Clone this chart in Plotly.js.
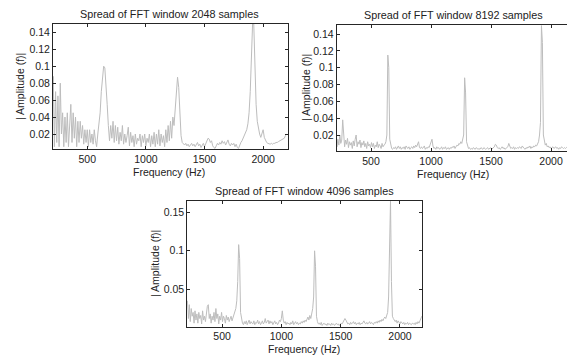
<!DOCTYPE html>
<html>
<head>
<meta charset="utf-8">
<script src="https://cdn.plot.ly/plotly-3.0.1.min.js"></script>
<style>html,body{margin:0;padding:0;background:#fff;}#chart{width:567px;height:356px;}</style>
</head>
<body>
<div id="chart"></div>
<script>
// ---- data ----
const panelTitles = ["Spread of FFT window 2048 samples", "Spread of FFT window 8192 samples", "Spread of FFT window 4096 samples"];
const xLabel = "Frequency (Hz)";
const yLabel = "| Amplitude (f)|";

// FFT bin grids (Hz): first bin and bin spacing
const bin2048 = {start: 200, step: 10};
const bin8192 = {start: 200, step: 8};
const bin4096 = {start: 200, step: 8};

const amp2048 = [
 .035,.088,.005,.07,.01,.065,.005,.08,.02,.045,
 .005,.04,.01,.045,.005,.035,.055,.01,.045,.015,
 .04,.005,.035,.01,.035,.015,.03,.008,.025,.01,
 .025,.005,.025,.01,.02,.008,.025,.012,.005,.02,
 .03,.045,.07,.09,.1,.098,.08,.055,.03,.012,
 .03,.015,.035,.01,.03,.012,.028,.008,.022,.012,
 .03,.008,.02,.01,.018,.028,.006,.022,.01,.018,
 .005,.02,.008,.015,.012,.02,.005,.018,.01,.02,
 .006,.015,.01,.02,.005,.018,.008,.022,.005,.02,
 .008,.025,.006,.02,.01,.018,.005,.025,.01,.03,
 .012,.035,.015,.04,.03,.05,.07,.087,.075,.045,
 .018,.01,.008,.007,.009,.006,.008,.005,.007,.009,
 .006,.008,.005,.007,.01,.006,.008,.004,.007,.009,
 .005,.008,.012,.015,.014,.01,.012,.006,.004,.003,
 .006,.009,.007,.01,.008,.012,.009,.011,.007,.01,
 .013,.008,.006,.009,.007,.009,.005,.008,.004,.003,
 .007,.01,.012,.015,.018,.02,.025,.032,.045,.07,
 .11,.15,.15,.1,.055,.035,.025,.02,.016,.02,
 .025,.016,.012,.01,.009,.008,.008,.009,.008,.009,
 .009,.01,.01,.011,.012,.012,.013,.014,.015,.018,
 .02
];

const amp8192 = [
 .012,.018,.006,.015,.008,.02,.01,.014,.038,.012,
 .006,.014,.009,.016,.005,.012,.008,.011,.004,.013,
 .007,.015,.02,.006,.012,.009,.014,.005,.011,.008,
 .013,.006,.01,.004,.012,.007,.009,.005,.011,.006,
 .01,.004,.008,.006,.012,.005,.009,.007,.004,.01,
 .006,.008,.009,.012,.02,.115,.1,.015,.006,.004,
 .003,.005,.004,.006,.003,.005,.007,.004,.006,.003,
 .005,.004,.006,.003,.007,.005,.004,.006,.003,.005,
 .006,.004,.007,.005,.008,.006,.01,.012,.005,.004,
 .006,.004,.005,.007,.003,.005,.004,.006,.005,.008,
 .011,.015,.007,.004,.005,.003,.006,.004,.005,.003,
 .004,.006,.003,.005,.004,.006,.003,.004,.005,.003,
 .005,.004,.006,.005,.007,.004,.006,.008,.007,.01,
 .009,.012,.01,.015,.02,.088,.07,.012,.006,.004,
 .005,.003,.004,.003,.005,.004,.003,.005,.004,.003,
 .004,.003,.005,.004,.003,.005,.004,.003,.004,.005,
 .003,.004,.005,.003,.004,.005,.006,.009,.008,.005,
 .004,.005,.003,.004,.006,.004,.005,.003,.004,.005,
 .006,.01,.007,.004,.005,.004,.006,.003,.005,.004,
 .005,.004,.006,.005,.004,.007,.005,.004,.003,.005,
 .004,.006,.005,.007,.004,.006,.005,.007,.006,.008,
 .007,.009,.012,.02,.035,.15,.13,.02,.012,.008,
 .01,.006,.007,.005,.006,.004,.005,.006,.004,.005,
 .006,.004,.005,.003,.005,.004,.006,.005,.004,.005,
 .004,.005,.006,.004,.005,.006,.004,.005,.006,.005,
 .006
];

const amp4096 = [
 .022,.035,.012,.03,.008,.025,.015,.02,.006,.022,
 .01,.018,.006,.02,.012,.016,.005,.022,.01,.015,
 .008,.02,.028,.03,.012,.018,.006,.015,.01,.02,
 .008,.025,.012,.018,.005,.015,.01,.02,.008,.015,
 .012,.006,.016,.01,.014,.008,.012,.015,.009,.013,
 .015,.02,.025,.035,.06,.108,.09,.02,.01,.006,
 .004,.008,.005,.009,.004,.007,.01,.005,.008,.006,
 .005,.009,.004,.007,.006,.01,.005,.008,.004,.006,
 .009,.005,.007,.012,.006,.008,.01,.005,.009,.006,
 .008,.004,.006,.009,.005,.007,.004,.006,.01,.008,
 .012,.022,.01,.006,.008,.004,.007,.005,.006,.004,
 .007,.005,.009,.004,.006,.008,.005,.007,.004,.006,
 .005,.008,.006,.009,.007,.01,.008,.012,.014,.01,
 .016,.012,.018,.025,.04,.1,.08,.015,.008,.005,
 .006,.004,.007,.003,.005,.006,.004,.005,.003,.006,
 .004,.005,.003,.006,.004,.005,.003,.004,.006,.004,
 .005,.003,.004,.006,.005,.007,.009,.012,.01,.007,
 .005,.006,.004,.007,.005,.006,.008,.005,.007,.004,
 .006,.005,.007,.004,.006,.005,.008,.009,.006,.005,
 .007,.005,.006,.008,.005,.007,.006,.004,.007,.006,
 .008,.006,.009,.007,.01,.008,.011,.009,.012,.014,
 .012,.016,.02,.04,.137,.165,.06,.015,.012,.01,
 .008,.01,.006,.009,.007,.005,.008,.006,.005,.007,
 .004,.006,.005,.007,.004,.006,.005,.004,.006,.005,
 .006,.004,.007,.005,.008,.006,.009,.012,.015,.01,
 .008
];

const xTicks = [500, 1000, 1500, 2000];
const xTickText = ["500", "1000", "1500", "2000"];
const yTicksA = [0.02, 0.04, 0.06, 0.08, 0.1, 0.12, 0.14];
const yTickTextA = ["0.02", "0.04", "0.06", "0.08", "0.1", "0.12", "0.14"];
const yTicksC = [0.05, 0.1, 0.15];
const yTickTextC = ["0.05", "0.1", "0.15"];

// ---- figure ----
const W = 567, H = 356;
const lineCol = "#bdbdbd";
const axCol = "#262626";
const family = "Liberation Sans, Arial, sans-serif";
const font = {family: family, size: 10.5, color: "#222"};
const titleFont = {family: family, size: 10.8, color: "#222"};

function tr(amp, bin, xa, ya) {
  return {type: "scatter", mode: "lines", y: amp, x0: bin.start, dx: bin.step,
          xaxis: xa, yaxis: ya, line: {color: lineCol, width: 1}, hoverinfo: "skip", showlegend: false};
}

function px(a, b) { return [a / W, b / W]; }
function py(top, bottom) { return [1 - bottom / H, 1 - top / H]; }

function xax(dom, range, anchor, mirror) {
  return {domain: dom, range: range, anchor: anchor, showgrid: false, zeroline: false,
          showline: true, linecolor: axCol, linewidth: 1, mirror: mirror,
          ticks: "inside", ticklen: 3, tickcolor: axCol, tickwidth: 1,
          tickvals: xTicks, ticktext: xTickText, tickfont: font, fixedrange: true};
}
function yax(dom, range, anchor, vals, text, mirror) {
  return {domain: dom, range: range, anchor: anchor, showgrid: false, zeroline: false,
          showline: true, linecolor: axCol, linewidth: 1, mirror: mirror,
          ticks: "inside", ticklen: 3, tickcolor: axCol, tickwidth: 1,
          tickvals: vals, ticktext: text, tickfont: font, fixedrange: true};
}

const d1x = px(53, 288), d1y = py(24, 149);
const d2x = [336.7 / W, 1], d2y = py(25, 151);
const d3x = px(187.3, 421.7), d3y = py(201, 326.7);

const data = [
  tr(amp2048, bin2048, "x", "y"),
  tr(amp8192, bin8192, "x2", "y2"),
  tr(amp4096, bin4096, "x3", "y3")
];

function ann(text, x, y, angle, f) {
  return {text: text, xref: "paper", yref: "paper", x: x / W, y: 1 - y / H,
          xanchor: "center", yanchor: "middle", showarrow: false, textangle: angle || 0,
          font: f || font};
}

const layout = {
  width: W, height: H, margin: {l: 0, r: 0, t: 0, b: 0},
  paper_bgcolor: "#fff", plot_bgcolor: "#fff", font: font,
  xaxis: xax(d1x, [208, 2212], "y", "ticks"),
  yaxis: yax(d1y, [0.0023, 0.1498], "x", yTicksA, yTickTextA, "ticks"),
  xaxis2: xax(d2x, [214, 2133], "y2", "ticks"),
  yaxis2: yax(d2y, [0.001, 0.1507], "x2", yTicksA, yTickTextA, false),
  xaxis3: xax(d3x, [207, 2183], "y3", "ticks"),
  yaxis3: yax(d3y, [0.0014, 0.1647], "x3", yTicksC, yTickTextC, "ticks"),
  annotations: [
    ann(panelTitles[0], 169, 14, 0, titleFont),
    ann(panelTitles[1], 453, 15, 0, titleFont),
    ann(panelTitles[2], 304, 191, 0, titleFont),
    ann(xLabel, 169, 172),
    ann(xLabel, 453, 174),
    ann(xLabel, 304, 349),
    ann(yLabel, 20, 87, -90),
    ann(yLabel, 306, 88, -90),
    ann(yLabel, 155, 264, -90)
  ]
};

Plotly.newPlot("chart", data, layout, {staticPlot: true, displayModeBar: false});
</script>
</body>
</html>
